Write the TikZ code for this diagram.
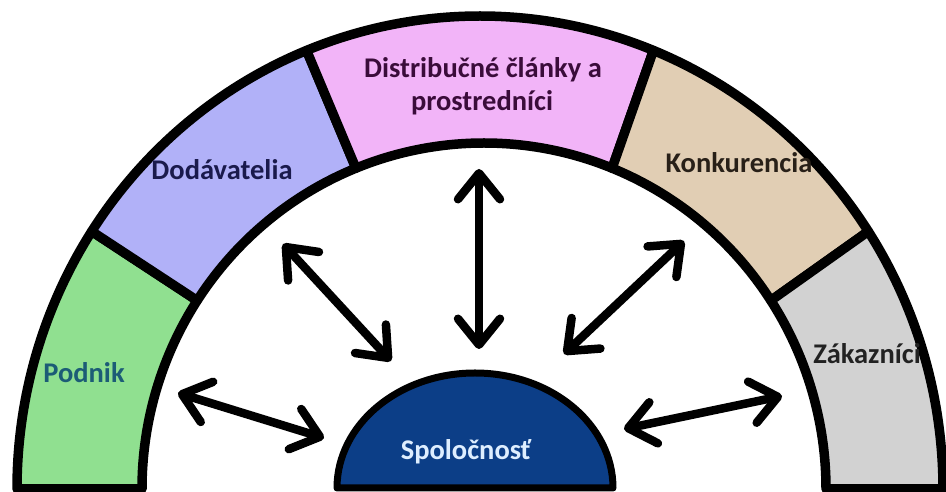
\documentclass[tikz,border=0pt]{standalone}
\usepackage{fontspec}
\setmainfont{Carlito}
\usetikzlibrary{arrows.meta}
\definecolor{cgreen}{RGB}{144,224,144}
\definecolor{cviolet}{RGB}{177,177,248}
\definecolor{cpink}{RGB}{242,180,248}
\definecolor{ctan}{RGB}{225,206,180}
\definecolor{cgray}{RGB}{210,210,210}
\definecolor{cnavy}{RGB}{12,62,135}
\definecolor{tpodnik}{RGB}{28,92,118}
\definecolor{tdod}{RGB}{26,26,76}
\definecolor{tdist}{RGB}{58,12,58}
\definecolor{tkonk}{RGB}{40,32,24}
\definecolor{tzak}{RGB}{34,34,34}
\definecolor{tspol}{RGB}{222,238,255}
\begin{document}
\begin{tikzpicture}[x=1pt,y=1pt,
  seg/.style={draw=black,line width=9.5pt,line join=round},
  lbl/.style={font=\fontsize{28.5}{34}\selectfont\bfseries,anchor=base,inner sep=0pt},
  dbl/.style={line width=8.5pt,line cap=round,
    {Straight Barb[length=26pt,width=42pt,round]}-{Straight Barb[length=26pt,width=42pt,round]}}
]
\useasboundingbox (0,0) rectangle (946,492);
\coordinate (CO) at (480,3);
\coordinate (CI) at (484,3);
\coordinate (CS) at (475,4);
% sectors
\filldraw[seg,fill=cgreen] ([shift={(CO)}]147:463pt and 473pt) arc[start angle=147,end angle=180,x radius=463pt,y radius=473pt]
  -- ([shift={(CI)}]180:342pt and 346pt) arc[start angle=180,end angle=147,x radius=342pt,y radius=346pt] -- cycle;
\filldraw[seg,fill=cviolet] ([shift={(CO)}]112:463pt and 473pt) arc[start angle=112,end angle=147,x radius=463pt,y radius=473pt]
  -- ([shift={(CI)}]147:342pt and 346pt) arc[start angle=147,end angle=112,x radius=342pt,y radius=346pt] -- cycle;
\filldraw[seg,fill=cpink] ([shift={(CO)}]68:463pt and 473pt) arc[start angle=68,end angle=112,x radius=463pt,y radius=473pt]
  -- ([shift={(CI)}]112:342pt and 346pt) arc[start angle=112,end angle=68,x radius=342pt,y radius=346pt] -- cycle;
\filldraw[seg,fill=ctan] ([shift={(CO)}]33:463pt and 473pt) arc[start angle=33,end angle=68,x radius=463pt,y radius=473pt]
  -- ([shift={(CI)}]68:342pt and 346pt) arc[start angle=68,end angle=33,x radius=342pt,y radius=346pt] -- cycle;
\filldraw[seg,fill=cgray] ([shift={(CO)}]0:463pt and 473pt) arc[start angle=0,end angle=33,x radius=463pt,y radius=473pt]
  -- ([shift={(CI)}]33:342pt and 346pt) arc[start angle=33,end angle=0,x radius=342pt,y radius=346pt] -- cycle;
% central half disc
\filldraw[seg,line width=7pt,fill=cnavy] ([shift={(CS)}]0:138pt and 115pt) arc[start angle=0,end angle=180,x radius=138pt,y radius=115pt] -- cycle;
% labels
\node[lbl,text=tpodnik] (podnik) at (84,109) {Podnik};
\node[lbl,text=tdod] (dod) at (222,312) {Dodávatelia};
\node[lbl,text=tdist] (dist1) at (483,414) {Distribučné články a};
\node[lbl,text=tdist] (dist2) at (482,381) {prostredníci};
\node[lbl,text=tkonk] (konk) at (739,319) {Konkurencia};
\node[lbl,text=tzak] (zak) at (867,128) {Zákazníci};
\node[lbl,text=tspol] (spol) at (466,32) {Spoločnosť};
% arrow ends
\coordinate (a1o) at (178,99);
\coordinate (a1i) at (324,54);
\coordinate (a2o) at (283,248);
\coordinate (a2i) at (391,131);
\coordinate (a3o) at (479,323);
\coordinate (a3i) at (479,143);
\coordinate (a4o) at (684,251);
\coordinate (a4i) at (564,138);
\coordinate (a5o) at (782,96);
\coordinate (a5i) at (624,63);
\draw[dbl] (a1o) -- (a1i);
\draw[dbl] (a2o) -- (a2i);
\draw[dbl] (a3o) -- (a3i);
\draw[dbl] (a4o) -- (a4i);
\draw[dbl] (a5o) -- (a5i);
\end{tikzpicture}
\end{document}
